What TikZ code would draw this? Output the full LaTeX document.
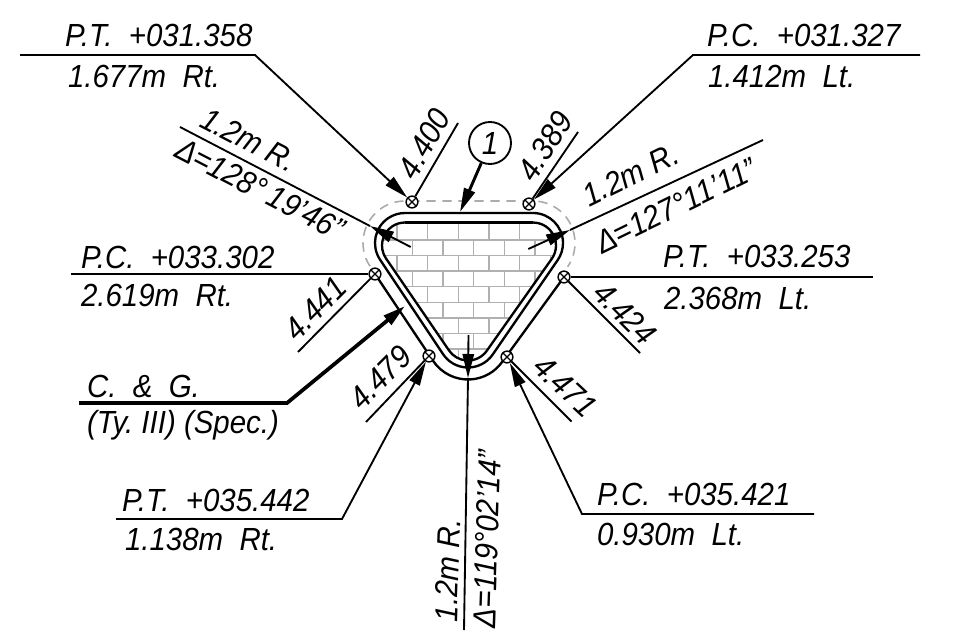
\documentclass[tikz,border=0pt]{standalone}
\usepackage{fontspec}
\setmainfont{Liberation Sans}[FakeStretch=0.92]
\usetikzlibrary{calc,arrows.meta}
\definecolor{brickgray}{HTML}{B0B0B0}
\definecolor{dashgray}{HTML}{ABABAB}
\newcommand{\curbpath}[4]{% centres #1 #2 #3 radius #4
  ($(#1)+(146.3:#4)$) arc (146.3:270:#4) -- ($(#2)+(270:#4)$) arc (270:394.5:#4) -- ($(#3)+(34.5:#4)$) arc (34.5:146.3:#4) -- cycle}
\tikzset{
  x=.75pt,y=-.75pt,
  lbl/.style={anchor=base west,inner sep=0pt,outer sep=0pt,font=\fontsize{24}{28}\selectfont\itshape},
  leader/.style={line width=1.4pt,line join=miter},
  headed/.style={-{Triangle[length=18pt,width=8.5pt]}},
  curbline/.style={line width=1.75pt},
  brick/.style={draw=brickgray,line width=.95pt},
  pointmark/.style={circle,draw,line width=1.1pt,fill=white,inner sep=0pt,minimum size=8.8pt,
    path picture={\draw[line width=1pt] (path picture bounding box.north west)--(path picture bounding box.south east)
      (path picture bounding box.north east)--(path picture bounding box.south west);}}
}
\begin{document}
\begin{tikzpicture}
\useasboundingbox (0,0) rectangle (969,635);
\coordinate (C1) at (405,243);
\coordinate (C2) at (533,243);
\coordinate (C3) at (468,337.5);
\coordinate (I1) at (405,245.5);
\coordinate (I2) at (533,245.5);
% bricks
\begin{scope}
\clip \curbpath{I1}{I2}{C3}{23};
\foreach \r in {0,...,9}{
  \pgfmathsetmacro\ya{224.3+15.6*\r}
  \pgfmathsetmacro\yb{\ya+15.6}
  \pgfmathsetmacro\xo{mod(\r,2)==0 ? 366.4 : 381.6}
  \draw[brick] (360,\yb)--(580,\yb);
  \foreach \k in {0,...,6}{
    \draw[brick] ({\xo+30.67*\k},\ya)--({\xo+30.67*\k},\yb);
  }
}
\end{scope}
% curb lines
\draw[curbline] \curbpath{C1}{C2}{C3}{30};
\draw[curbline] \curbpath{I1}{I2}{C3}{23};
\draw[line width=2.6pt] ($(I1)+(270:23)$) -- ($(I2)+(270:23)$);
% offset line
\draw[dashgray,line width=1.2pt,dash pattern=on 7pt off 5pt]
  ($(C1)+(146.3:42)$) arc (146.3:270:42) -- ($(C2)+(270:42)$) arc (270:394.5:42);
\coordinate (m3p) at (375,274);
\coordinate (m5p) at (564,277);
\draw[curbline] (m3p) -- ($(C3)+(146.3:42)$) arc (146.3:34.5:42) -- (m5p);
% point markers
\node[pointmark] (m1) at (412,202) {};
\node[pointmark] (m2) at (529,204) {};
\node[pointmark] (m3) at (m3p) {};
\node[pointmark] (m4) at (429,356) {};
\node[pointmark] (m5) at (m5p) {};
\node[pointmark] (m6) at (507,357) {};
% station leaders
\coordinate (a1) at (20,55); \coordinate (b1) at (255,55);
\draw[leader,headed] (a1) -- (b1) -- (m1);
\node[lbl] (t1a) at (65,47) {P.T.\ \ +031.358};
\node[lbl] (t1b) at (68,87) {1.677m\ \ Rt.};
\coordinate (a2) at (920,55); \coordinate (b2) at (693,55);
\draw[leader,headed] (a2) -- (b2) -- (m2);
\node[lbl] (t2a) at (707,47) {P.C.\ \ +031.327};
\node[lbl] (t2b) at (708,87) {1.412m\ \ Lt.};
\coordinate (a3) at (71,274);
\draw[leader] (a3) -- (m3);
\node[lbl] (t3a) at (81,268) {P.C.\ \ +033.302};
\node[lbl] (t3b) at (81,306) {2.619m\ \ Rt.};
\coordinate (a4) at (873,277);
\draw[leader] (a4) -- (m5);
\node[lbl] (t4a) at (663,267) {P.T.\ \ +033.253};
\node[lbl] (t4b) at (664,309) {2.368m\ \ Lt.};
\coordinate (a6) at (116,519); \coordinate (b6) at (342,519);
\draw[leader,headed] (a6) -- (b6) -- (m4);
\node[lbl] (t6a) at (122,511) {P.T.\ \ +035.442};
\node[lbl] (t6b) at (125,550) {1.138m\ \ Rt.};
\coordinate (a7) at (814,514); \coordinate (b7) at (582,514);
\draw[leader,headed] (a7) -- (b7) -- (m6);
\node[lbl] (t7a) at (597,505) {P.C.\ \ +035.421};
\node[lbl] (t7b) at (597,545) {0.930m\ \ Lt.};
% C & G
\coordinate (a5) at (79,403); \coordinate (b5) at (287,403); \coordinate (c5) at (405,306);
\draw[line width=2.8pt,-{Triangle[length=17pt,width=8.5pt]}] (a5) -- (b5) -- (c5);
\node[lbl] (t5a) at (87,397) {C.\ \ \&\ \ G.};
\node[lbl] (t5b) at (87,433) {(Ty.\ III)\ (Spec.)};
% distance lines
\coordinate (d1) at (458,123); \draw[leader] (m1) -- (d1);
\node[lbl,rotate=60] (n1) at (415,181) {4.400};
\coordinate (d2) at (578,132); \draw[leader] (m2) -- (d2);
\node[lbl,rotate=57] (n2) at (534,183) {4.389};
\coordinate (d3) at (298,352); \draw[leader] (m3) -- (d3);
\node[lbl,rotate=45] (n3) at (297,342) {4.441};
\coordinate (d4) at (366,422); \draw[leader] (m4) -- (d4);
\node[lbl,rotate=45] (n4) at (362,411) {4.479};
\coordinate (d5) at (640,353); \draw[leader] (m5) -- (d5);
\node[lbl,rotate=-45] (n5) at (591,295) {4.424};
\coordinate (d6) at (571.5,421.5); \draw[leader] (m6) -- (d6);
\node[lbl,rotate=-43] (n6) at (531,369) {4.471};
% circle callout
\node[circle,draw,line width=1.4pt,minimum size=31.5pt,inner sep=0pt,font=\fontsize{24}{28}\selectfont\itshape] (bub) at (490,143) {1};
\coordinate (bubtip) at (460,212);
\draw[line width=2.2pt,-{Triangle[length=18pt,width=8.5pt]}] (bub) -- (bubtip);
% radius leaders
\coordinate (r1far) at (180,127); \coordinate (r1tip) at (370,226); \coordinate (r1cen) at (410.7,247);
\draw[leader] (r1far) -- (r1tip);
\draw[leader,headed] (r1cen) -- (r1tip);
\node[lbl,rotate=-27.4] (r1a) at (198,126) {1.2m\ R.};
\node[lbl,rotate=-27.4] (r1b) at (173,156) {Δ=128°\,19'46"};
\coordinate (r2far) at (763,140); \coordinate (r2tip) at (570,230); \coordinate (r2cen) at (528.3,249);
\draw[leader] (r2far) -- (r2tip);
\draw[leader,headed] (r2cen) -- (r2tip);
\node[lbl,rotate=26] (r2a) at (589,207) {1.2m\ R.};
\node[lbl,rotate=26] (r2b) at (602,254) {Δ=127°11'11"};
\coordinate (r3far) at (464,630); \coordinate (r3tip) at (468,378); \coordinate (r3cen) at (468.5,335);
\draw[leader] (r3far) -- (r3tip);
\draw[leader,headed] (r3cen) -- (r3tip);
\node[lbl,rotate=88] (r3a) at (457,622) {1.2m\ R.};
\node[lbl,rotate=88] (r3b) at (495,628) {Δ=119°02'14"};
\end{tikzpicture}
\end{document}
